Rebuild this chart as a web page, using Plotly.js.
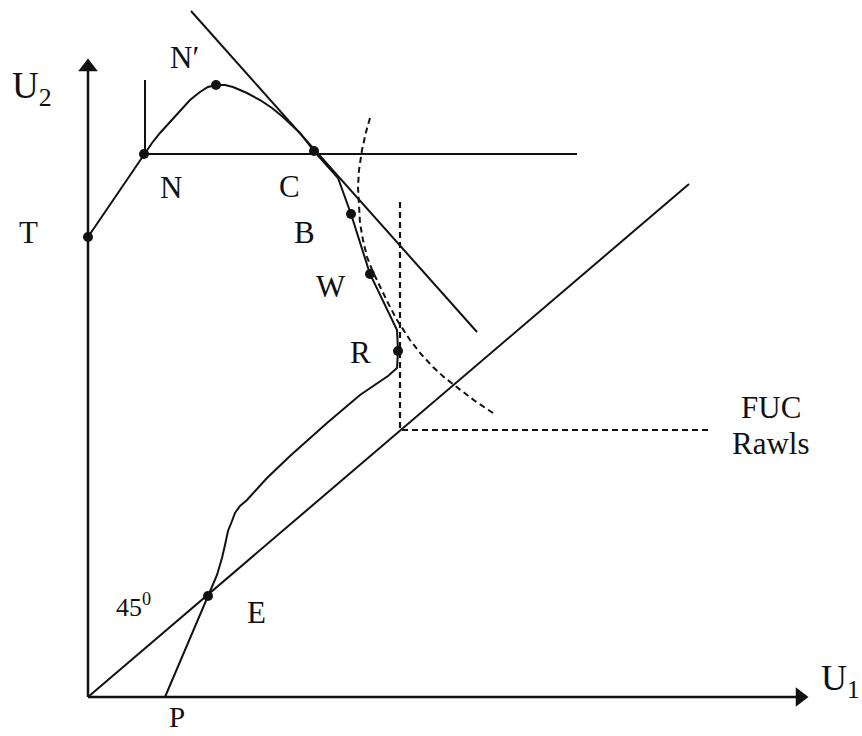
<!DOCTYPE html>
<html>
<head>
<meta charset="utf-8">
<script src="https://cdn.plot.ly/plotly-3.0.1.min.js"></script>
<style>html,body{margin:0;padding:0;background:#fff;}#chart{width:862px;height:736px;}</style>
</head>
<body>
<div id="chart"></div>
<script>
// Utility frontier (T - N - N' - C - B - W - R - E - P)
const frontierU1 = [0, 56, 64, 72, 82, 92, 102, 112, 120, 128, 137, 145, 159, 172, 184, 195, 205, 212, 219, 226, 250, 263, 282, 309, 310, 309, 300, 272, 239, 202, 179, 159, 152, 147, 144, 140, 137, 134, 129, 120, 77];
const frontierU2 = [460, 543, 554, 564, 575, 587, 597, 605, 610, 612, 612, 610, 604, 597, 589, 580, 571, 564, 555, 546, 519, 483, 423, 367, 346, 329, 321, 302, 274, 241, 219, 197, 191, 184, 176, 166, 152, 139, 122, 101, 0];

// Horizontal line through N and C
const levelU1 = [56, 489];
const levelU2 = [543, 543];
// Vertical stub above N
const stubU1 = [57, 57];
const stubU2 = [543, 617];
// Tangent line at C
const tangentU1 = [103, 389];
const tangentU2 = [686, 365];
// 45 degree line
const diagU1 = [0, 601];
const diagU2 = [0, 513];
// Rawls social welfare contour (dashed L)
const rawlsU1 = [312, 312, 620];
const rawlsU2 = [495, 267, 267];
// Dashed social indifference curve
const swfU1 = [282, 278, 274, 271, 270, 271, 272, 275, 279, 285, 292, 300, 309, 322, 333, 345, 357, 369, 387, 405];
const swfU2 = [579, 565, 547, 527, 510, 492, 474, 457, 440, 425, 410, 394, 377, 357, 343, 330, 319, 310, 296, 284];

// Axes (U1 horizontal, U2 vertical)
const axisU1x = [0, 712];
const axisU1y = [0, 0];
const axisU2x = [0, 0];
const axisU2y = [0, 630];

// Marked points
const pointNames = ["T", "N", "N′", "C", "B", "W", "R", "E"];
const pointU1 = [0, 56, 128, 226, 263, 282, 310, 120];
const pointU2 = [460, 543, 612, 546, 483, 423, 346, 101];

// Labels
const labelText = ["N′", "N", "C", "T", "B", "W", "R", "E", "P", "FUC", "Rawls", "45<sup>0</sup>"];
const labelU1 = [96, 83, 201, -60, 216, 243, 272, 168, 89, 683, 683, 45];
const labelU2 = [640, 510, 511, 465, 465, 411, 345, 85, -20, 290, 254, 92];

const axisTitles = ["U<sub>1</sub>", "U<sub>2</sub>"];

const black = '#111';
function line(x, y, extra) {
  return Object.assign({x: x, y: y, type: 'scatter', mode: 'lines', hoverinfo: 'skip',
    line: {color: black, width: 2}, showlegend: false}, extra || {});
}

const traces = [
  line(axisU1x, axisU1y, {line: {color: black, width: 2.5}}),
  line(axisU2x, axisU2y, {line: {color: black, width: 2.5}}),
  {x: [axisU1x[1]], y: [0], type: 'scatter', mode: 'markers', hoverinfo: 'skip',
   marker: {symbol: 'triangle-right', size: 17, color: black}, showlegend: false},
  {x: [0], y: [axisU2y[1]], type: 'scatter', mode: 'markers', hoverinfo: 'skip',
   marker: {symbol: 'triangle-up', size: 17, color: black}, showlegend: false},
  line(frontierU1, frontierU2),
  line(levelU1, levelU2),
  line(stubU1, stubU2),
  line(tangentU1, tangentU2),
  line(diagU1, diagU2),
  line(rawlsU1, rawlsU2, {line: {color: black, width: 2.2, dash: '6px,4px'}}),
  line(swfU1, swfU2, {line: {color: black, width: 2, dash: '6px,4px'}}),
  {x: pointU1, y: pointU2, type: 'scatter', mode: 'markers', hoverinfo: 'skip',
   marker: {color: black, size: 10}, showlegend: false}
];

const serif = '"Liberation Serif"';
const annotations = labelText.map((t, i) => ({
  x: labelU1[i], y: labelU2[i], xref: 'x', yref: 'y', text: t, showarrow: false,
  xanchor: 'center', yanchor: 'middle',
  font: {family: serif, size: t.indexOf('45') === 0 ? 26 : (t === 'P' ? 29 : 31), color: black}
}));
annotations.push({x: 731, y: 17, xref: 'x', yref: 'y', text: axisTitles[0], showarrow: false,
  xanchor: 'left', yanchor: 'middle', font: {family: serif, size: 36, color: black}});
annotations.push({x: -78, y: 609, xref: 'x', yref: 'y', text: axisTitles[1], showarrow: false,
  xanchor: 'left', yanchor: 'middle', font: {family: serif, size: 37, color: black}});

const layout = {
  width: 862, height: 736,
  margin: {l: 0, r: 0, t: 0, b: 0},
  paper_bgcolor: '#fff', plot_bgcolor: '#fff',
  font: {family: serif, color: black},
  xaxis: {range: [-88, 774], visible: false, fixedrange: true},
  yaxis: {range: [-39, 697], visible: false, fixedrange: true},
  annotations: annotations,
  showlegend: false
};

Plotly.newPlot('chart', traces, layout, {displayModeBar: false, staticPlot: true});
</script>
</body>
</html>
